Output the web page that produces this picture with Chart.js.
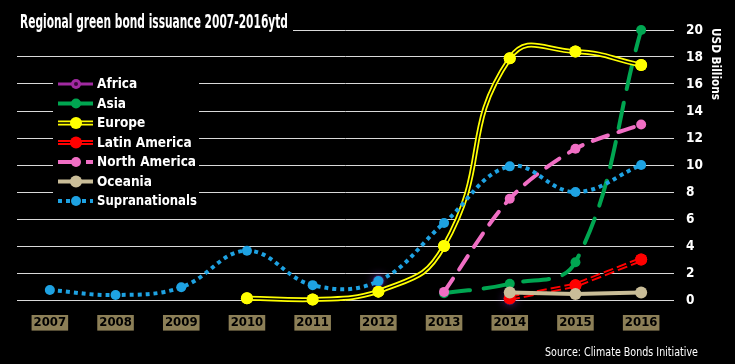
<!DOCTYPE html>
<html><head><meta charset="utf-8">
<script src="https://cdn.jsdelivr.net/npm/chart.js@4/dist/chart.umd.min.js"></script>
<style>html,body{margin:0;padding:0;background:#000;}#wrap{width:735px;height:364px;position:relative;}</style>
</head><body><div id="wrap"><canvas id="c" width="735" height="364"></canvas></div>
<script>
const years = ['2007','2008','2009','2010','2011','2012','2013','2014','2015','2016'];
const africa         = [null, null, null, null, null, 1.4, null, 0.05, null, null];
const asia           = [null, null, null, null, null, null, 0.5, 1.2, 2.8, 20.0];
const europe         = [null, null, null, 0.13, 0.03, 0.62, 4.0, 17.9, 18.4, 17.4];
const latinAmerica   = [null, null, null, null, null, null, null, 0.13, 1.1, 3.0];
const northAmerica   = [null, null, null, null, null, null, 0.6, 7.5, 11.2, 13.0];
const oceania        = [null, null, null, null, null, null, null, 0.55, 0.45, 0.55];
const supranationals = [0.74, 0.37, 0.94, 3.65, 1.1, 1.4, 5.7, 9.9, 8.0, 10.0];
const yMin = 0, yMax = 20, yStep = 2;
const titleText = 'Regional green bond issuance 2007-2016ytd';
const yTitle = 'USD Billions';
const sourceText = 'Source: Climate Bonds Initiative';

const FAM = '"DejaVu Sans Condensed", "DejaVu Sans", sans-serif';
const C = {
  africa:'#a12aa1', asia:'#00a651', europe:'#ffff00', latin:'#ff0000',
  na:'#f06ec4', oceania:'#c9bd98', supra:'#1ea2e2'
};

const legendItems = [
  {label:'Africa', color:C.africa, width:3, ring:true, r:5},
  {label:'Asia', color:C.asia, width:4, r:5},
  {label:'Europe', color:C.europe, width:5, inner:1.5, r:6},
  {label:'Latin America', color:C.latin, width:5, inner:1.2, r:6},
  {label:'North America', color:C.na, width:4, dash:[22,6], r:5},
  {label:'Oceania', color:C.oceania, width:4, r:6},
  {label:'Supranationals', color:C.supra, width:4, dash:[4,4], r:5}
];

// draw text at a given font size, condensed horizontally to a target width
function drawFitted(ctx, text, x, y, target, font, align){
  ctx.save();
  ctx.font = font;
  const w = ctx.measureText(text).width;
  const k = Math.min(1, target / w);
  ctx.translate(x, y);
  ctx.scale(k, 1);
  ctx.textAlign = align;
  ctx.fillText(text, 0, 0);
  ctx.restore();
}

const effects = {
  id:'effects',
  beforeDatasetDraw(chart, args){
    const ds = chart.data.datasets[args.index];
    if (ds.glow) {
      const ctx = chart.ctx;
      ctx.save();
      ctx.shadowColor = ds.glow;
      ctx.shadowBlur = 10;
    }
  },
  afterDatasetDraw(chart, args){
    const ds = chart.data.datasets[args.index];
    const ctx = chart.ctx;
    if (ds.glow) { ctx.restore(); }
    if (ds.innerColor) {
      const meta = args.meta;
      ctx.save();
      ctx.beginPath();
      meta.dataset.path(ctx);
      ctx.lineWidth = ds.innerWidth;
      ctx.strokeStyle = ds.innerColor;
      ctx.setLineDash([]);
      ctx.stroke();
      ctx.restore();
      meta.data.forEach(el => el.draw(ctx, chart.chartArea));
    }
  },
  afterDraw(chart){
    const ctx = chart.ctx;
    ctx.save();
    // title
    ctx.fillStyle = '#000';
    ctx.fillRect(12, 6, 281, 32);
    ctx.fillStyle = '#fff';
    ctx.textBaseline = 'alphabetic';
    drawFitted(ctx, titleText, 20, 28, 268, 'bold 20px ' + FAM, 'left');
    // legend
    ctx.fillStyle = '#000';
    ctx.fillRect(53, 73, 146, 138);
    legendItems.forEach((it, i) => {
      const y = 84 + i * 19.5;
      ctx.save();
      ctx.strokeStyle = it.color;
      ctx.lineWidth = it.width;
      ctx.setLineDash(it.dash || []);
      ctx.beginPath(); ctx.moveTo(58, y); ctx.lineTo(93, y); ctx.stroke();
      if (it.inner) {
        ctx.setLineDash([]);
        ctx.strokeStyle = '#000'; ctx.lineWidth = it.inner;
        ctx.beginPath(); ctx.moveTo(58, y); ctx.lineTo(93, y); ctx.stroke();
      }
      ctx.fillStyle = it.color;
      ctx.beginPath(); ctx.arc(76, y, it.r, 0, Math.PI * 2); ctx.fill();
      if (it.ring) {
        ctx.fillStyle = '#3a0a3a';
        ctx.beginPath(); ctx.arc(76, y, 2, 0, Math.PI * 2); ctx.fill();
      }
      ctx.restore();
      ctx.fillStyle = '#fff';
      ctx.textBaseline = 'middle';
      const tw = it.label === 'Supranationals' ? 100 : 1000;
      drawFitted(ctx, it.label, 97, y + 0.5, tw, 'bold 13.5px ' + FAM, 'left');
    });
    // y-axis title
    ctx.save();
    ctx.translate(715, 28);
    ctx.rotate(Math.PI / 2);
    ctx.fillStyle = '#fff';
    ctx.textBaseline = 'middle';
    drawFitted(ctx, yTitle, 0, 0, 72, 'bold 13px ' + FAM, 'left');
    ctx.restore();
    // source
    ctx.fillStyle = '#fff';
    ctx.textBaseline = 'middle';
    drawFitted(ctx, sourceText, 698, 353, 153, '12.5px ' + FAM, 'right');
    ctx.restore();
  }
};

function mk(label, data, color, extra){
  return Object.assign({
    label, data, borderColor: color, backgroundColor: color,
    pointBackgroundColor: color, pointBorderColor: color, pointBorderWidth: 0,
    borderWidth: 4, pointRadius: 5, tension: 0.4, spanGaps: false, clip: false
  }, extra);
}

const datasets = [
  mk('Africa', africa, C.africa, {order:7, showLine:false, pointRadius:6,
     pointBackgroundColor:'rgba(90,30,130,0.55)', glow:'rgba(150,70,220,0.9)'}),
  mk('Asia', asia, C.asia, {order:6, borderDash:[26,14], borderCapStyle:'round'}),
  mk('Europe', europe, C.europe, {order:5, borderWidth:5, pointRadius:6, tension:0.5, innerColor:'#000', innerWidth:1.5}),
  mk('Latin America', latinAmerica, C.latin, {order:4, borderDash:[10,4], borderWidth:5, pointRadius:6, tension:0, innerColor:'#000', innerWidth:1.2}),
  mk('North America', northAmerica, C.na, {order:3, borderDash:[16,11], borderCapStyle:'round', tension:0.3}),
  mk('Oceania', oceania, C.oceania, {order:2, tension:0, pointRadius:6}),
  mk('Supranationals', supranationals, C.supra, {order:1, borderDash:[4,4], pointRadius:5})
];

new Chart(document.getElementById('c'), {
  type:'line',
  data:{labels: years, datasets},
  options:{
    responsive:false, animation:false, events:[],
    layout:{padding:{left:17, top:30, right:0, bottom:0}},
    plugins:{legend:{display:false}, tooltip:{enabled:false}, title:{display:false}},
    scales:{
      x:{
        offset:true,
        grid:{display:false, drawTicks:false},
        border:{display:false},
        ticks:{
          color:'#000', font:{family:FAM, weight:'bold', size:13},
          padding:15, maxRotation:0,
          showLabelBackdrop:true, backdropColor:'#8c7f57',
          backdropPadding:{left:2, right:2, top:0, bottom:0}
        },
        afterFit(s){ s.height = 64; }
      },
      y:{
        position:'right', min:yMin, max:yMax,
        grid:{color:'#d9d9d9', lineWidth:1, drawTicks:false},
        border:{display:false},
        ticks:{stepSize:yStep, color:'#fff', padding:12, font:{family:FAM, weight:'bold', size:13.5}},
        afterFit(s){ s.width = 61; }
      }
    }
  },
  plugins:[effects]
});
</script></body></html>
